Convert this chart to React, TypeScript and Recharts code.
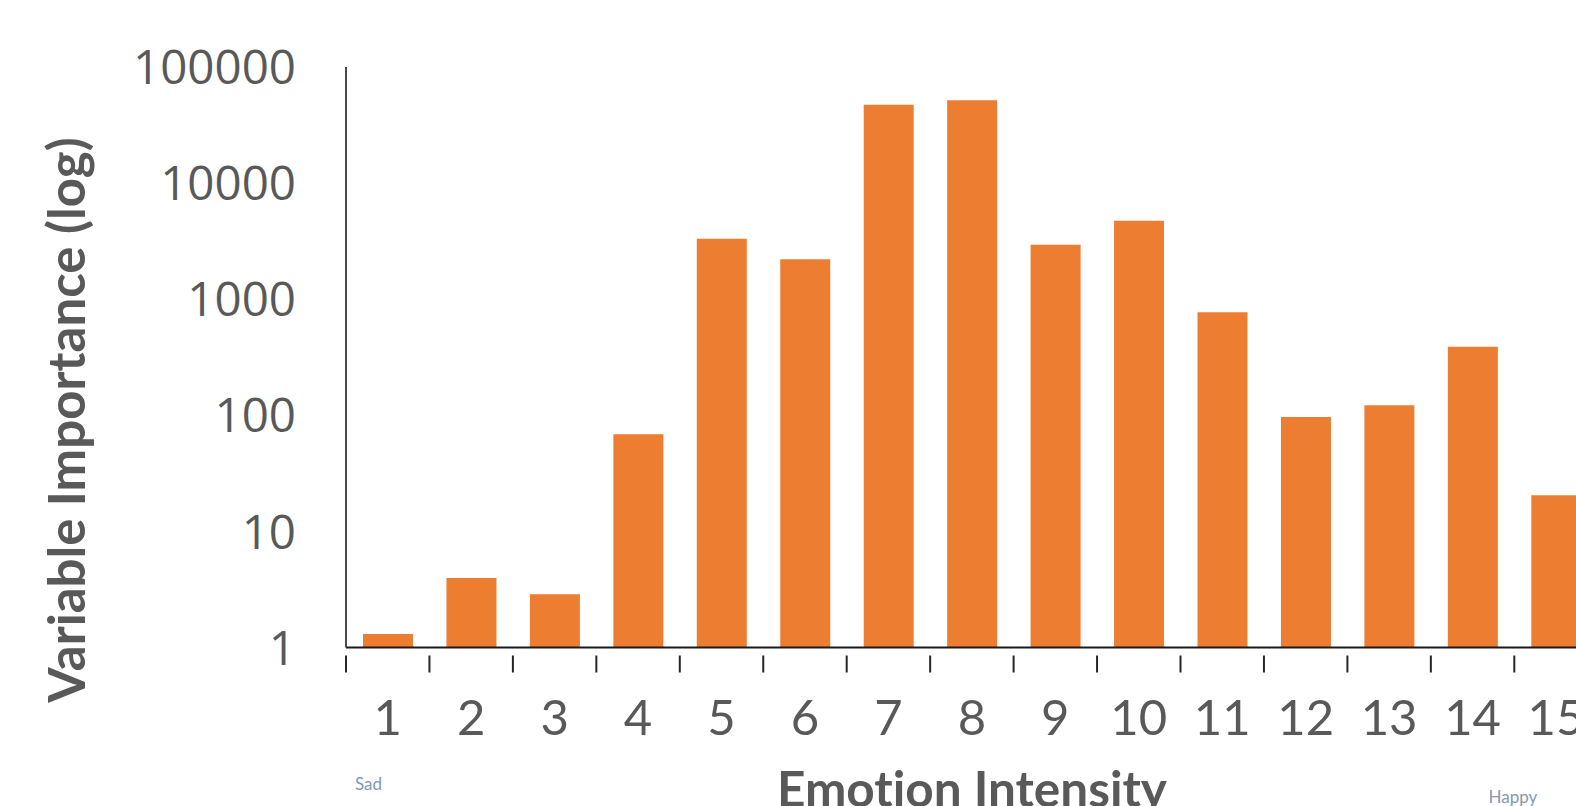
import { BarChart, Bar, XAxis, YAxis } from 'recharts';

const categories = ['1', '2', '3', '4', '5', '6', '7', '8', '9', '10', '11', '12', '13', '14', '15'];
const importance = [1.31, 3.97, 2.87, 68.6, 3320, 2206, 47350, 51680, 2947, 4745, 771, 96.7, 122, 390, 20.5];
const yTicks = [1, 10, 100, 1000, 10000, 100000];

const data = categories.map((c, i) => ({ level: c, value: importance[i] }));

const TEXT = '#595959';
const ORANGE = '#ED7D31';
const YAXIS_W = 346;
const PLOT_W = 1251.75;
const HALF_BAND = PLOT_W / categories.length / 2;
const noLig = { fontVariantLigatures: 'none' as const };

const XTick = (props: any) => {
  const { x, y, payload } = props;
  return (
    <g>
      <line x1={x - HALF_BAND} y1={y} x2={x - HALF_BAND} y2={y + 17} stroke="#262626" strokeWidth={2} />
      <text
        x={x}
        y={y + 79}
        textAnchor="middle"
        fill={TEXT}
        style={{ fontFamily: 'Lato', fontSize: 49 }}
      >
        {payload.value}
      </text>
    </g>
  );
};

const YTick = (props: any) => {
  const { y, payload } = props;
  return (
    <text
      x={YAXIS_W - 50}
      y={y}
      dy="0.36em"
      textAnchor="end"
      fill={TEXT}
      style={{ fontFamily: '"Open Sans"', fontSize: 47.5 }}
    >
      {payload.value}
    </text>
  );
};

const XTitle = () => (
  <g>
    <text x={972} y={806.5} textAnchor="middle" fill={TEXT} style={{ fontFamily: 'Lato', fontSize: 49.5, fontWeight: 700, ...noLig }}>
      Emotion Intensity
    </text>
    <text x={368.5} y={790} textAnchor="middle" fill="#8497B0" style={{ fontFamily: 'Lato', fontSize: 17 }}>
      Sad
    </text>
    <text x={1513} y={802.5} textAnchor="middle" fill="#8497B0" style={{ fontFamily: 'Lato', fontSize: 17 }}>
      Happy
    </text>
  </g>
);

const YTitle = () => (
  <text
    x={0}
    y={0}
    transform="translate(85, 420) rotate(-90)"
    textAnchor="middle"
    fill={TEXT}
    style={{ fontFamily: 'Lato', fontSize: 51, fontWeight: 700, ...noLig }}
  >
    Variable Importance (log)
  </text>
);

export default function App() {
  return (
    <div
      style={{
        position: 'absolute',
        left: 0,
        top: 0,
        width: 1576,
        height: 806,
        overflow: 'hidden',
        background: '#fff',
      }}
    >
      <BarChart
        width={YAXIS_W + PLOT_W}
        height={900}
        data={data}
        margin={{ top: 67, right: 0, bottom: 0, left: 0 }}
        barSize={50}
      >
        <XAxis
          dataKey="level"
          height={252.5}
          axisLine={{ stroke: '#1a1a1a', strokeWidth: 2 }}
          tickLine={false}
          tick={<XTick />}
          interval={0}
          label={<XTitle />}
        />
        <YAxis
          type="number"
          scale="log"
          domain={[1, 100000]}
          allowDataOverflow
          ticks={yTicks}
          width={YAXIS_W}
          axisLine={{ stroke: '#4a4a4a', strokeWidth: 2 }}
          tickLine={false}
          tick={<YTick />}
          interval={0}
          label={<YTitle />}
        />
        <Bar dataKey="value" fill={ORANGE} isAnimationActive={false} />
      </BarChart>
    </div>
  );
}
